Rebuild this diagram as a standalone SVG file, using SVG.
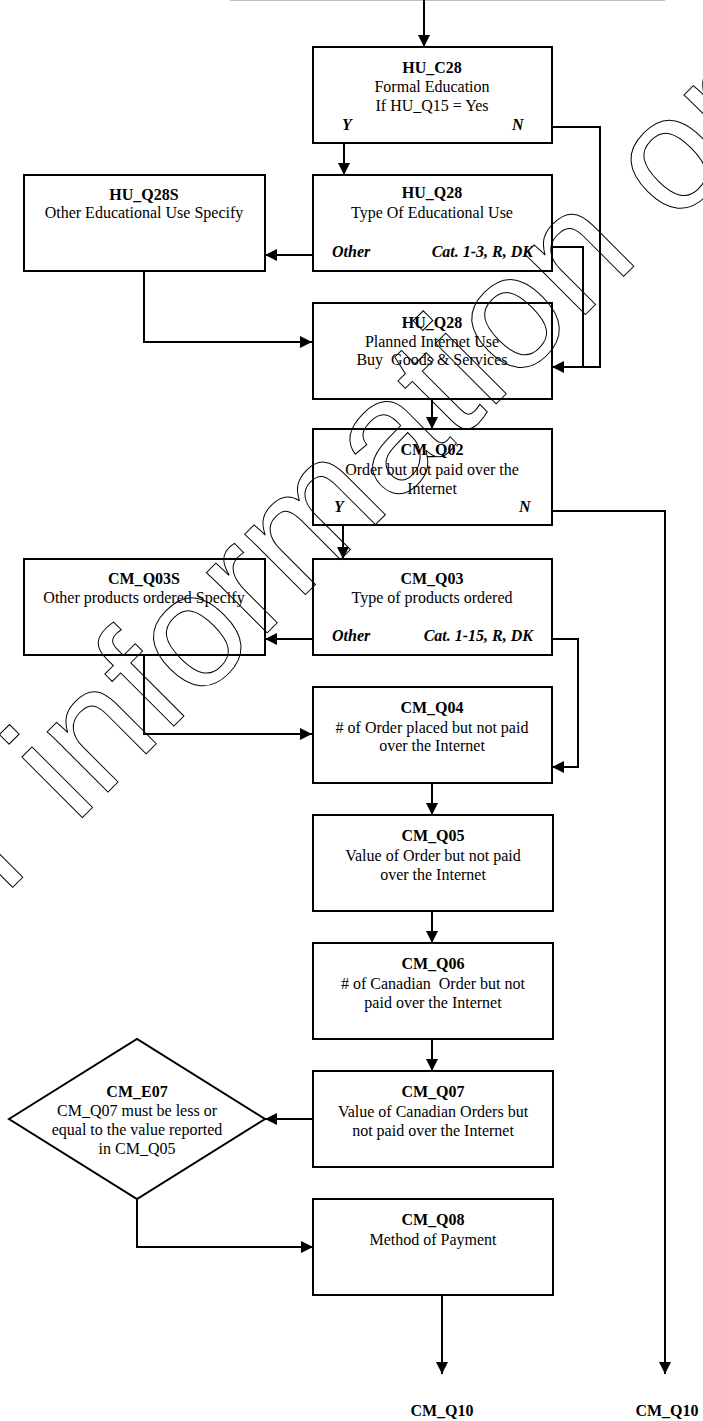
<svg xmlns="http://www.w3.org/2000/svg" width="703" height="1421" viewBox="0 0 703 1421">
<style>
.box{fill:#fff;stroke:#000;stroke-width:2}
.t{font-family:"Liberation Serif","Times New Roman",serif;font-size:16px;fill:#000;text-anchor:middle}
.b{font-weight:bold}
.bi{font-family:"Liberation Serif","Times New Roman",serif;font-size:16px;font-weight:bold;font-style:italic;fill:#000}
.c{fill:none;stroke:#000;stroke-width:2}
.wm{font-family:"Liberation Sans",Arial,sans-serif;font-size:162px;fill:none;stroke:#000;stroke-width:1}
</style>
<defs>
<marker id="ah" markerUnits="userSpaceOnUse" markerWidth="12" markerHeight="12" refX="12" refY="6" orient="auto">
<path d="M0,0 L12,6 L0,12 z" fill="#000"/>
</marker>
</defs>
<line x1="230" y1="0.5" x2="665" y2="0.5" stroke="#c0c0c0" stroke-width="1"/>
<g id="connectors">
<path class="c" d="M424,0 V47" marker-end="url(#ah)"/>
<path class="c" d="M344,143 V175" marker-end="url(#ah)"/>
<path class="c" d="M552,127 H600 V367 H552" marker-end="url(#ah)"/>
<path class="c" d="M552,247 H583 V367"/>
<path class="c" d="M312,255 H265" marker-end="url(#ah)"/>
<path class="c" d="M144,271 V342 H312" marker-end="url(#ah)"/>
<path class="c" d="M432,399 V429" marker-end="url(#ah)"/>
<path class="c" d="M343,525 V559" marker-end="url(#ah)"/>
<path class="c" d="M552,511 H665 V1374" marker-end="url(#ah)"/>
<path class="c" d="M312,639 H265" marker-end="url(#ah)"/>
<path class="c" d="M144,655 V734 H312" marker-end="url(#ah)"/>
<path class="c" d="M552,639 H578 V767 H552" marker-end="url(#ah)"/>
<path class="c" d="M432,783 V815" marker-end="url(#ah)"/>
<path class="c" d="M432,911 V943" marker-end="url(#ah)"/>
<path class="c" d="M432,1039 V1071" marker-end="url(#ah)"/>
<path class="c" d="M313,1119 H265" marker-end="url(#ah)"/>
<path class="c" d="M137,1199 V1247 H313" marker-end="url(#ah)"/>
<path class="c" d="M442,1295 V1374" marker-end="url(#ah)"/>
</g>
<g id="HU_C28">
<rect class="box" x="313" y="47" width="239" height="96"/>
<text class="t b" x="432" y="73">HU_C28</text>
<text class="t" x="432" y="92">Formal Education</text>
<text class="t" x="432" y="111">If HU_Q15 = Yes</text>
<text class="bi" x="342" y="130">Y</text>
<text class="bi" x="512" y="130">N</text>
</g>
<g id="HU_Q28S">
<rect class="box" x="24" y="175" width="241" height="96"/>
<text class="t b" x="144" y="200">HU_Q28S</text>
<text class="t" x="144" y="218">Other Educational Use Specify</text>
</g>
<g id="HU_Q28">
<rect class="box" x="313" y="175" width="239" height="96"/>
<text class="t b" x="432" y="198">HU_Q28</text>
<text class="t" x="432" y="218">Type Of Educational Use</text>
<text class="bi" x="332" y="257">Other</text>
<text class="bi" x="533" y="257" text-anchor="end">Cat. 1-3, R, DK</text>
</g>
<g id="HU_Q28_planned">
<rect class="box" x="313" y="303" width="239" height="96"/>
<text class="t b" x="432" y="328">HU_Q28</text>
<text class="t" x="432" y="347">Planned Internet Use</text>
<text class="t" x="432" y="365" xml:space="preserve">Buy  Goods &amp; Services</text>
</g>
<g id="CM_Q02">
<rect class="box" x="313" y="429" width="239" height="96"/>
<text class="t b" x="432" y="455">CM_Q02</text>
<text class="t" x="432" y="475">Order but not paid over the</text>
<text class="t" x="432" y="494">Internet</text>
<text class="bi" x="334" y="512">Y</text>
<text class="bi" x="519" y="512">N</text>
</g>
<g id="CM_Q03S">
<rect class="box" x="24" y="559" width="241" height="96"/>
<text class="t b" x="144" y="584">CM_Q03S</text>
<text class="t" x="144" y="603">Other products ordered Specify</text>
</g>
<g id="CM_Q03">
<rect class="box" x="313" y="559" width="239" height="96"/>
<text class="t b" x="432" y="584">CM_Q03</text>
<text class="t" x="432" y="603">Type of products ordered</text>
<text class="bi" x="332" y="641">Other</text>
<text class="bi" x="533" y="641" text-anchor="end">Cat. 1-15, R, DK</text>
</g>
<g id="CM_Q04">
<rect class="box" x="313" y="687" width="239" height="96"/>
<text class="t b" x="432" y="713">CM_Q04</text>
<text class="t" x="432" y="733"># of Order placed but not paid</text>
<text class="t" x="432" y="751">over the Internet</text>
</g>
<g id="CM_Q05">
<rect class="box" x="313" y="815" width="240" height="96"/>
<text class="t b" x="433" y="841">CM_Q05</text>
<text class="t" x="433" y="861">Value of Order but not paid</text>
<text class="t" x="433" y="880">over the Internet</text>
</g>
<g id="CM_Q06">
<rect class="box" x="313" y="943" width="240" height="96"/>
<text class="t b" x="433" y="969">CM_Q06</text>
<text class="t" x="433" y="989" xml:space="preserve"># of Canadian  Order but not</text>
<text class="t" x="433" y="1008">paid over the Internet</text>
</g>
<g id="CM_Q07">
<rect class="box" x="313" y="1071" width="240" height="96"/>
<text class="t b" x="433" y="1097">CM_Q07</text>
<text class="t" x="433" y="1117">Value of Canadian Orders but</text>
<text class="t" x="433" y="1136">not paid over the Internet</text>
</g>
<g id="CM_E07">
<polygon class="box" points="9,1119 137,1039 265,1119 137,1199"/>
<text class="t b" x="137" y="1097">CM_E07</text>
<text class="t" x="137" y="1116">CM_Q07 must be less or</text>
<text class="t" x="137" y="1135">equal to the value reported</text>
<text class="t" x="137" y="1154">in CM_Q05</text>
</g>
<g id="CM_Q08">
<rect class="box" x="313" y="1199" width="240" height="96"/>
<text class="t b" x="433" y="1225">CM_Q08</text>
<text class="t" x="433" y="1245">Method of Payment</text>
</g>
<g id="CM_Q10_a">
<text class="t b" x="442" y="1416">CM_Q10</text>
</g>
<g id="CM_Q10_b">
<text class="t b" x="667" y="1416">CM_Q10</text>
</g>
<text class="wm" transform="translate(4.7,895.3) rotate(-45)" xml:space="preserve">r information on</text>
</svg>
